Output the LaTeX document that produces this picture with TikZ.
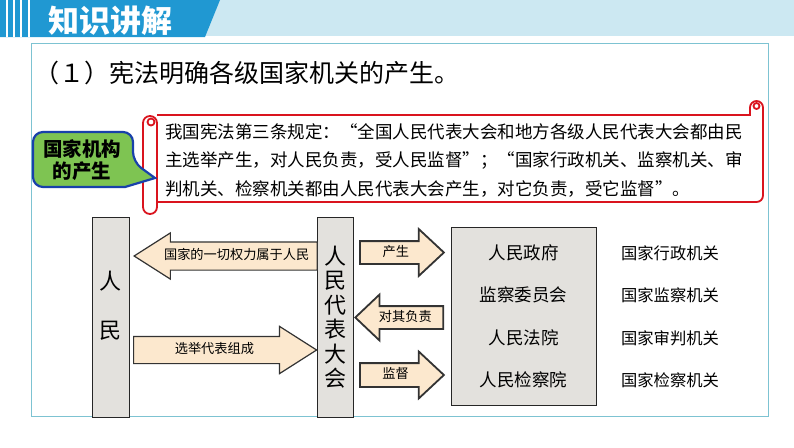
\documentclass[tikz,border=0pt]{standalone}
\usepackage{fontspec}
\setmainfont{Noto Sans CJK SC}
\usetikzlibrary{shapes.arrows}

\definecolor{hdblue}{RGB}{32,152,210}
\definecolor{hdlight}{RGB}{204,232,242}
\definecolor{framecol}{RGB}{125,195,210}
\definecolor{scrollred}{RGB}{218,20,30}
\definecolor{tagfill}{RGB}{126,196,82}
\definecolor{tagline}{RGB}{25,65,170}
\definecolor{boxgray}{RGB}{227,225,221}
\definecolor{arrowfill}{RGB}{252,232,206}

\tikzset{
  graybox/.style={draw=black!85, fill=boxgray, line width=0.9pt},
  blockarrow/.style={single arrow, draw=black!80, fill=arrowfill, line width=1.2pt, inner xsep=2pt, font=\fontsize{13.2}{13.2}\selectfont, text height=10pt, text depth=3pt},
  scrollline/.style={draw=scrollred, line width=1.8pt},
}

\begin{document}
\begin{tikzpicture}[x=1pt,y=-1pt]
\useasboundingbox[fill=white] (0,0) rectangle (794,447);

\fill[hdlight] (205,0) rectangle (794,36);
\fill[hdblue] (0,0) -- (220,0) -- (205,37) -- (0,37) -- cycle;
\foreach \x in {7,14,21,29} \draw[white, line width=1.2pt] (\x,0) -- (\x,37);
\node[font=\fontsize{31}{31}\selectfont\bfseries, text=white, anchor=west, inner sep=0pt] (hd) at (48,21) {知识讲解};

\draw[framecol, line width=1pt] (31,43) rectangle (768,416);
\node[font=\fontsize{25}{25}\selectfont, anchor=west, inner sep=0pt] (title) at (34,73) {（１）宪法明确各级国家机关的产生。};

% scroll
\draw[scrollline, fill=white, rounded corners=6.5pt] (750,115) -- (750,101) -- (763,101) -- (763,202) -- (150,202);
\draw[scrollline] (157,115) -- (751,115);
\draw[scrollline] (756.5,106) circle (3);
\draw[scrollline, fill=white, rounded corners=7pt] (143,116) rectangle (157,214);
\draw[scrollline] (151,122) circle (3.5);
\node[font=\fontsize{17.5}{28.5}\selectfont, align=left, anchor=west, inner sep=0pt] (law) at (165,160)
  {我国宪法第三条规定：“全国人民代表大会和地方各级人民代表大会都由民\\
   主选举产生，对人民负责，受人民监督”；“国家行政机关、监察机关、审\\
   判机关、检察机关都由人民代表大会产生，对它负责，受它监督”。};

\draw[draw=tagline, fill=tagfill, line width=2.2pt, rounded corners=10pt] (33,132) -- (133,132) -- (133,162) [sharp corners] -- (155,178) -- (125,187) [rounded corners=10pt] -- (33,187) -- cycle;
\node[font=\fontsize{19.5}{22}\selectfont\bfseries, align=center] (tag) at (82,160) {国家机构\\的产生};

% diagram
\node[graybox, minimum width=37pt, minimum height=200pt] (rm) at (110.5,317) {};
\node[font=\fontsize{22}{49}\selectfont, align=center] (rmtext) at (110.5,305.5) {人\\民};
\node[graybox, minimum width=36pt, minimum height=200pt, inner sep=0pt, font=\fontsize{22}{24.5}\selectfont, align=center] (rd) at (335,317) {人\\民\\代\\表\\大\\会};

\node[blockarrow, shape border rotate=180, minimum height=183pt, single arrow head extend=9pt, single arrow tip angle=65, inner ysep=7pt, anchor=tip] (qlgs) at (133,256) {国家的一切权力属于人民};
\node[blockarrow, minimum height=183pt, single arrow head extend=10pt, single arrow tip angle=65, inner ysep=6.5pt, anchor=tail] (xjdb) at (133,350) {选举代表组成};
\node[blockarrow, line width=1.8pt, minimum height=84pt, single arrow head extend=12pt, single arrow tip angle=86, inner ysep=4pt, anchor=tail] (cs) at (359,252.5) {产生};
\node[blockarrow, line width=1.8pt, shape border rotate=180, minimum height=88pt, single arrow head extend=11.5pt, single arrow tip angle=87, inner ysep=4pt, anchor=tip] (dqfz) at (354,317.5) {对其负责};
\node[blockarrow, line width=1.8pt, minimum height=84pt, single arrow head extend=11.5pt, single arrow tip angle=86, inner ysep=4.5pt, anchor=tail] (jd) at (359,375) {监督};

\node[graybox, minimum width=145pt, minimum height=178pt] (jg) at (523.5,316) {};
\foreach \y/\a/\b [count=\i] in {253/人民政府/国家行政机关, 295/监察委员会/国家监察机关, 338/人民法院/国家审判机关, 380/人民检察院/国家检察机关}{
  \node[font=\fontsize{17.5}{17.5}\selectfont] (org\i) at (523.5,\y) {\a};
  \node[font=\fontsize{16.3}{16.3}\selectfont] (kind\i) at (670,\y) {\b};
}

\end{tikzpicture}
\end{document}
